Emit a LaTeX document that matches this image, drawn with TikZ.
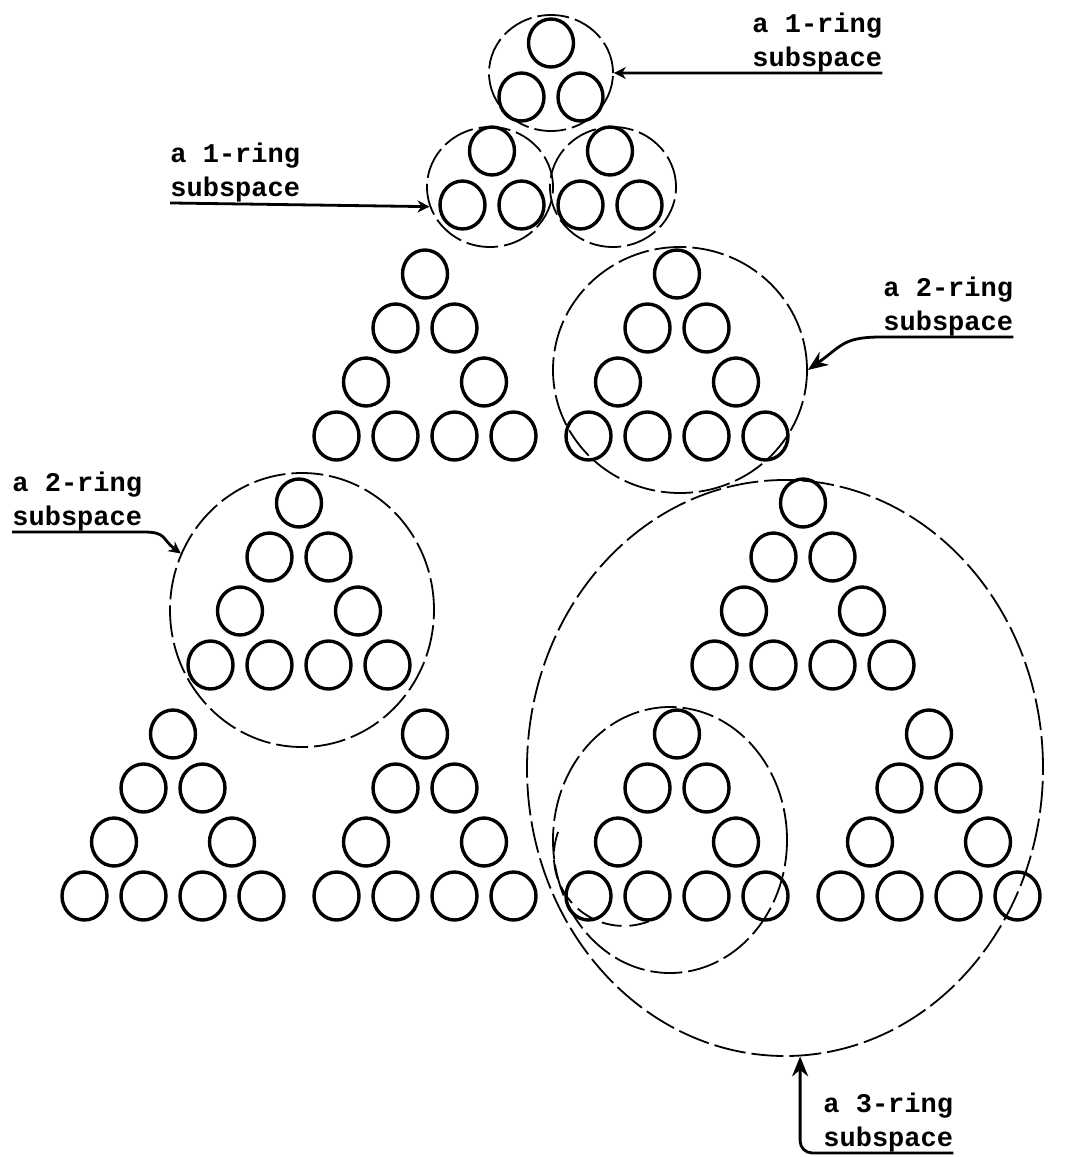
\documentclass[tikz,border=0pt]{standalone}
\usepackage{fontspec}
\setmonofont{Liberation Mono}
\usetikzlibrary{arrows.meta}
\usetikzlibrary{shapes.geometric}

\begin{document}
\begin{tikzpicture}[x=0.5pt, y=-0.5pt,
    ring/.style={ellipse, draw, line width=1.7pt, inner sep=0pt, minimum width=22.5pt, minimum height=24pt},
    subspace/.style={ellipse, draw, line width=0.9pt, dash pattern=on 16pt off 3pt, inner sep=0pt},
    tag/.style={align=left, inner sep=0pt, font=\ttfamily\bfseries\fontsize{13.5}{17}\selectfont},
    pointer/.style={line width=1.4pt, -{Stealth[length=6pt, width=6pt]}},
    bigpointer/.style={line width=1.4pt, -{Stealth[length=10pt, width=8pt]}}]

  \useasboundingbox (0,0) rectangle (1076,1157);

  % 3-ring -> 2-ring -> 1-ring -> ring
  \foreach \a/\xa/\ya in {0/0/0, 1/-1/1, 2/1/1}
  \foreach \b/\xb/\yb in {0/0/0, 1/-1/1, 2/1/1}
  \foreach \c/\xc/\yc in {0/0/0, 1/-1/1, 2/1/1}
  \foreach \d/\xd/\yd in {0/0/0, 1/-1/1, 2/1/1}
    \node[ring] (r\a\b\c\d) at ({551+252*\xa+126*\xb+59*\xc+29.5*\xd}, {43+460*\ya+231*\yb+108*\yc+54*\yd}) {};

  % subspaces
  \node[subspace, minimum width=62pt, minimum height=58pt] (one-top) at (551,73) {};
  \node[subspace, minimum width=63pt, minimum height=60pt] (one-left) at (490,187) {};
  \node[subspace, minimum width=63pt, minimum height=60pt] (one-right) at (613,187) {};
  \node[subspace, minimum width=127pt, minimum height=123pt] (two-right) at (680,370) {};
  \node[subspace, minimum width=132pt, minimum height=137pt] (two-left) at (302,610) {};
  \node[subspace, minimum width=117pt, minimum height=133pt] (two-low) at (670,840) {};
  \node[subspace, minimum width=258pt, minimum height=288pt] (three) at (785,768) {};
  \draw[line width=0.9pt, dash pattern=on 10pt off 4pt] (two-low.west) ++(6,-8) arc[start angle=200, end angle=60, radius=70];

  % labels
  \node[tag, anchor=north west] (tag-one-top) at (752,13) {a 1-ring\\subspace};
  \node[tag, anchor=north west] (tag-one-left) at (170,143) {a 1-ring\\subspace};
  \node[tag, anchor=north west] (tag-two-right) at (883,277) {a 2-ring\\subspace};
  \node[tag, anchor=north west] (tag-two-left) at (12,472) {a 2-ring\\subspace};
  \node[tag, anchor=north west] (tag-three) at (823,1093) {a 3-ring\\subspace};

  \draw[pointer] (tag-one-top.south east) -- (one-top.east);
  \draw[pointer] (tag-one-left.south west) -- (one-left.198);
  \draw[bigpointer] (tag-two-right.south east) -- (tag-two-right.south west) .. controls +(-40,0) and +(35,-25) .. (two-right.east);
  \draw[pointer] (tag-two-left.south west) -- (tag-two-left.south east) .. controls +(25,0) and +(-20,-15) .. (two-left.155);
  \draw[bigpointer, rounded corners=6pt] (tag-three.south east) -| (three.-87);
\end{tikzpicture}
\end{document}
